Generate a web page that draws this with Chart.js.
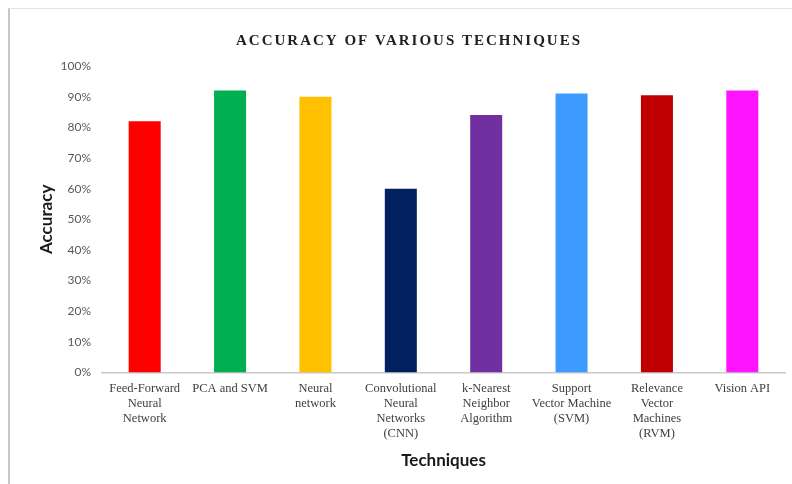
<!DOCTYPE html>
<html>
<head>
<meta charset="utf-8">
<title>Accuracy of various techniques</title>
<script src="https://cdn.jsdelivr.net/npm/chart.js@4"></script>
<style>
  html, body { margin: 0; padding: 0; background: #ffffff; }
  .wrap { position: relative; width: 792px; height: 484px; }
  .frame {
    position: absolute; left: 8px; top: 8px; right: 0; bottom: 0;
    border-left: 2px solid #c8c8c8; border-top: 1px solid #e4e4e4;
    pointer-events: none;
  }
  canvas { position: absolute; left: 0; top: 0; }
</style>
</head>
<body>
<div class="wrap">
  <canvas id="chart" width="792" height="484"></canvas>
  <div class="frame"></div>
</div>
<script>
"use strict";

// data
const techniques = [
  ["Feed-Forward", "Neural", "Network"],
  ["PCA and SVM"],
  ["Neural", "network"],
  ["Convolutional", "Neural", "Networks", "(CNN)"],
  ["k-Nearest", "Neighbor", "Algorithm"],
  ["Support", "Vector Machine", "(SVM)"],
  ["Relevance", "Vector", "Machines", "(RVM)"],
  ["Vision API"]
];
const accuracy = [0.82, 0.92, 0.90, 0.60, 0.84, 0.91, 0.905, 0.92];
const barColors = ["#ff0000", "#00b050", "#ffc000", "#002060", "#7030a0", "#3d9bff", "#c00000", "#ff14ff"];
const yTicks = [0, 0.1, 0.2, 0.3, 0.4, 0.5, 0.6, 0.7, 0.8, 0.9, 1.0];
const chartTitle = "ACCURACY OF VARIOUS TECHNIQUES";

// title drawn by hand so it can have letter spacing like the original
const spacedTitle = {
  id: "spacedTitle",
  afterDraw(chart) {
    const ctx = chart.ctx;
    ctx.save();
    ctx.font = "bold 15px 'Liberation Serif', serif";
    ctx.letterSpacing = "2px";
    ctx.fillStyle = "#1f1f1f";
    ctx.textAlign = "center";
    ctx.textBaseline = "middle";
    ctx.fillText(chartTitle, 409, 41);
    ctx.restore();
  }
};

new Chart(document.getElementById("chart"), {
  type: "bar",
  data: {
    labels: techniques,
    datasets: [{
      label: "Accuracy",
      data: accuracy,
      backgroundColor: barColors,
      borderWidth: 0,
      barPercentage: 0.75,
      categoryPercentage: 0.5
    }]
  },
  options: {
    responsive: false,
    animation: false,
    layout: { padding: { top: 66, right: 7, bottom: 9, left: 36 } },
    plugins: {
      legend: { display: false },
      tooltip: { enabled: false }
    },
    scales: {
      x: {
        grid: { display: false, drawTicks: false },
        border: { display: true, color: "#c9c9c9", width: 1.5 },
        ticks: {
          color: "#404040",
          font: { family: "'Liberation Serif', serif", size: 12.5 },
          maxRotation: 0,
          minRotation: 0,
          autoSkip: false,
          padding: 9
        },
        title: {
          display: true,
          text: "Techniques",
          color: "#1a1a1a",
          font: { family: "Lato, sans-serif", size: 17, weight: "bold" },
          padding: { top: 0 }
        }
      },
      y: {
        min: 0,
        max: 1,
        afterBuildTicks: (axis) => {
          axis.ticks = yTicks.map((v) => ({ value: v }));
        },
        afterFit: (axis) => {
          axis.width = 66; // plot starts at x=102 like the original
        },
        grid: { display: false, drawTicks: false },
        border: { display: false },
        ticks: {
          color: "#595959",
          font: { family: "Lato, sans-serif", size: 12 },
          padding: 11,
          callback: (v) => Math.round(v * 100) + "%"
        },
        title: {
          display: true,
          text: "Accuracy",
          color: "#1a1a1a",
          font: { family: "Lato, sans-serif", size: 17, weight: "bold" },
          padding: { top: 0, bottom: 6 }
        }
      }
    }
  },
  plugins: [spacedTitle]
});
</script>
</body>
</html>
